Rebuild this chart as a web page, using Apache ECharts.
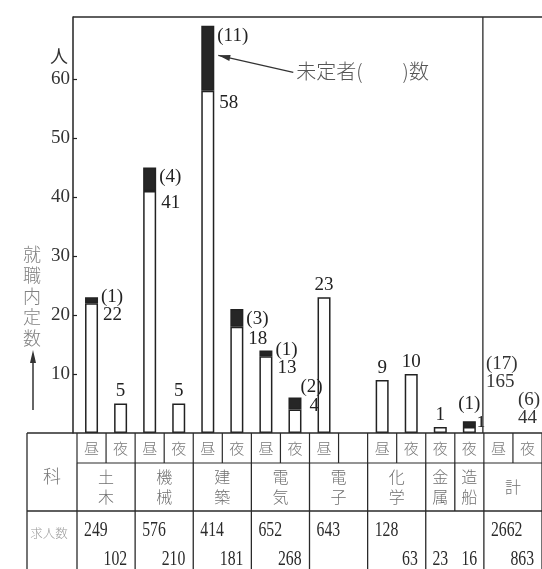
<!DOCTYPE html>
<html><head><meta charset="utf-8">
<script src="https://cdn.jsdelivr.net/npm/echarts@6/dist/echarts.min.js"></script>
<style>html,body{margin:0;padding:0;background:#fff}#c{width:542px;height:569px}</style>
</head><body><div id="c"></div>
<script>
// ---- data ----
const slotKeys = ['土木昼','土木夜','機械昼','機械夜','建築昼','建築夜','電気昼','電気夜','電子昼','電子-','化学昼','化学夜','金属夜','造船夜','計昼','計夜'];
const shifts   = ['昼','夜','昼','夜','昼','夜','昼','夜','昼','','昼','夜','夜','夜','昼','夜'];
const depts     = ['土木','機械','建築','電気','電子','化学','金属','造船','計'];
const deptSpans = [2,2,2,2,2,2,1,1,2];
const employed  = [22,5,41,5,58,18,13,4,23,null,9,10,1,1,null,null];
const undecided = [1,null,4,null,11,3,1,2,null,null,null,null,null,1,null,null];
const totalEmployed  = [165,44];
const totalUndecided = [17,6];
const openingsDay   = [249,576,414,652,643,128,null,null,2662];
const openingsNight = [102,210,181,268,null,63,23,16,863];
const yTicks = [10,20,30,40,50,60];
const Y_MAX = 70.5;

const SERIF = '"Liberation Serif","DejaVu Serif",serif';
const CJK = '"Noto Sans CJK JP","Noto Sans CJK SC",sans-serif';
const INK = '#222';

const chart = echarts.init(document.getElementById('c'), null, {renderer:'canvas'});
chart.setOption({
  animation:false,
  grid:{left:77, top:17, width:477, height:416},
  xAxis:{type:'category', data:slotKeys, boundaryGap:true,
    axisLine:{show:false}, axisTick:{show:false}, axisLabel:{show:false}, splitLine:{show:false}},
  yAxis:{type:'value', min:0, max:Y_MAX, interval:10, offset:4, splitLine:{show:false},
    axisLine:{show:true, lineStyle:{color:INK, width:1.5}},
    axisTick:{show:true, inside:true, length:4, customValues:yTicks, lineStyle:{color:INK, width:1.2}},
    axisLabel:{margin:3, customValues:yTicks, fontFamily:SERIF, fontSize:19, color:'#333'}},
  series:[
    {type:'bar', name:'employed', stack:'s', data:employed, barWidth:13,
      itemStyle:{color:'#fff', borderColor:INK, borderWidth:1.5}},
    {type:'bar', name:'undecided', stack:'s', data:undecided, barWidth:13,
      itemStyle:{color:'#262626', borderColor:INK, borderWidth:1.5}}
  ]
});

const px = (i, v) => chart.convertToPixel({xAxisIndex:0, yAxisIndex:0}, [i, v]);
const k = (px(0,0)[1] - px(0,10)[1]) / 10;
const colW = px(1,0)[0] - px(0,0)[0];
const x0 = px(0,0)[0] - colW/2;
const bx = j => x0 + j*colW;
const yBase = px(0,0)[1];
const yTop = px(0,Y_MAX)[1];

const LBL = {fontFamily:SERIF, fontSize:19, color:'#222', lineHeight:18};
const employedData = employed.map((v,i) => {
  if (v == null) return null;
  const u = undecided[i];
  if (u == null) return {value:v, label:{show:true, position:'top', distance:3, ...LBL}};
  const bh = u*k;
  if (v >= 5) return {value:v, label:{show:true, position:['100%',3], offset:[5,0], ...LBL}};
  return {value:v, label:{show:true, position:['100%', -bh - (v < 2 ? 8 : 1)], offset:[v < 2 ? 1 : 8, 0], ...LBL, fontSize: v < 2 ? 17 : 19}};
});
const undecidedData = undecided.map((u,i) => {
  if (u == null) return null;
  const v = employed[i], bh = u*k;
  const fmt = '(' + u + ')';
  if (v >= 5) return {value:u, label:{show:true, formatter:fmt, position:['100%', Math.min(1, bh-15)], offset:[3,0], ...LBL}};
  if (v < 2) return {value:u, label:{show:true, formatter:fmt, position:'top', distance:8, ...LBL}};
  return {value:u, label:{show:true, formatter:fmt, position:['100%', -20], offset:[-1,0], ...LBL}};
});

// ---- graphic: frame, table, annotations ----
const G = [];
const line = (x1,y1,x2,y2,w=1.3,c='#2a2a2a') => G.push({type:'line', silent:true, z:50,
  shape:{x1,y1,x2,y2}, style:{stroke:c, lineWidth:w}});
const text = (t, x, y, o={}) => G.push({type:'text', silent:true, z:60, x, y,
  scaleX:o.scaleX||1, scaleY:o.scaleY||1,
  style:{text:t, x:0, y:0, fontSize:o.size||18, fontFamily:o.family||SERIF, fill:o.color||'#333',
    align:o.align||'center', verticalAlign:o.valign||'middle', lineHeight:o.lh||undefined, fontWeight:o.weight||'normal'}});

// frame
line(73, yTop, 542, yTop, 1.5);
line(bx(14) - 1, yTop, bx(14) - 1, yBase, 1.3);

// table geometry
const T0 = yBase, T1 = 463, T2 = 511, T3 = 569, TL = 27;
line(TL, T0, 542, T0, 1.5);
line(bx(0), T1, 542, T1, 1.2);
line(TL, T2, 542, T2, 1.5);
line(TL, T0, TL, T3, 1.3);
for (let j = 0; j <= 16; j++) line(bx(j), T0, bx(j), T1, 1.2);
// group boundaries
let starts = [], s = 0;
deptSpans.forEach(n => { starts.push(s); s += n; });
starts.concat([s]).forEach(j => line(bx(j), T1, bx(j), T2, 1.3));
starts.concat([s]).forEach((j, gi) => {
  // no divider between 金属 and 造船 in the 求人数 row
  if (depts[gi] === '造船') return;
  line(bx(j), T2, bx(j), T3, 1.3);
});

// row 1: shifts
shifts.forEach((t, j) => { if (t) text(t, bx(j) + colW/2, 448, {family:CJK, size:15, color:'#7a7a7a', weight:300}); });
// row 2: departments
depts.forEach((d, gi) => {
  const cx = bx(starts[gi]) + deptSpans[gi]*colW/2;
  text(d.split('').join('\n'), cx, 487, {family:CJK, size:16, color:'#707070', lh:20, weight:300});
});
// row 3: openings
const NUM = {size:21, scaleX:0.75, color:'#2a2a2a'};
depts.forEach((d, gi) => {
  const L = bx(starts[gi]), R = bx(starts[gi] + deptSpans[gi]);
  const day = openingsDay[gi], night = openingsNight[gi];
  if (day != null) text(String(day), L + 7, 530, {...NUM, align:'left'});
  if (night != null) {
    if (deptSpans[gi] === 1 && day == null) text(String(night), (L+R)/2, 559, {...NUM, align:'center'});
    else text(String(night), R - 8, 559, {...NUM, align:'right'});
  }
});
// left column
text('科', 52, 476, {family:CJK, size:18, color:'#777', weight:300});
text('求人数', 49, 533, {family:CJK, size:12.5, color:'#999', weight:300});

// y-axis captions
text('人', 59, 56, {family:CJK, size:18, color:'#333'});
text('就\n職\n内\n定\n数', 32, 296, {family:CJK, size:18, color:'#808080', lh:21, weight:300});
line(33, 410, 33, 360, 1.5, '#333');
G.push({type:'polygon', silent:true, z:50, shape:{points:[[33,350],[30,363],[36,363]]}, style:{fill:'#333'}});

// 未定者 annotation arrow
const tip = [px(4,0)[0] + 6.5 + 4, px(4,64)[1]];
const tail = [tip[0] + 75, tip[1] + 17];
line(tail[0], tail[1], tip[0], tip[1], 1.2, '#333');
{
  const dx = tip[0]-tail[0], dy = tip[1]-tail[1], L = Math.hypot(dx,dy), ux = dx/L, uy = dy/L;
  const bxp = tip[0] - ux*12, byp = tip[1] - uy*12;
  G.push({type:'polygon', silent:true, z:50, shape:{points:[[tip[0],tip[1]],[bxp - uy*3, byp + ux*3],[bxp + uy*3, byp - ux*3]]}, style:{fill:'#333'}});
}
text('未定者(　　)数', tail[0] + 3, tail[1] - 1, {family:CJK, size:20, color:'#555', align:'left', weight:300});

// totals (計) labels
text('(' + totalUndecided[0] + ')\n' + totalEmployed[0], bx(14) + 2, 355, {size:19, align:'left', valign:'top', lh:18, color:'#333'});
text('(' + totalUndecided[1] + ')\n' + totalEmployed[1], bx(15) + 5, 391, {size:19, align:'left', valign:'top', lh:18, color:'#333'});

chart.setOption({
  series:[{data:employedData},{data:undecidedData}],
  graphic:G
});
</script>
</body></html>
